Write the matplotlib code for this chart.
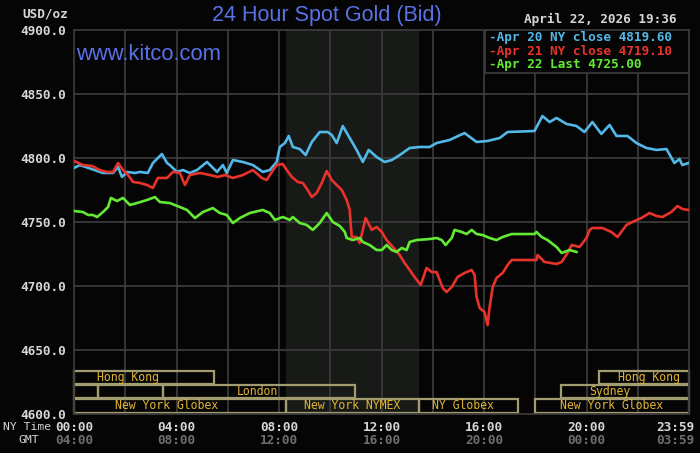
import matplotlib
matplotlib.use("Agg")
import matplotlib.pyplot as plt
from matplotlib.patches import Rectangle

# ---------------- data ----------------
blue_hours = [0.0, 0.23, 1.13, 1.52, 1.72, 1.87, 2.07, 2.38, 2.57, 2.88, 3.08, 3.43, 3.63, 3.74,
              4.02, 4.25, 4.52, 4.80, 5.19, 5.58, 5.81, 5.96, 6.20, 6.59, 6.98, 7.37, 7.64, 7.91,
              8.03, 8.23, 8.38, 8.54, 8.81, 9.04, 9.28, 9.59, 9.90, 10.06, 10.25, 10.49, 10.76,
              11.03, 11.27, 11.50, 11.81, 12.12, 12.40, 12.71, 13.10, 13.49, 13.88, 14.15, 14.66,
              15.24, 15.71, 16.14, 16.61, 16.92, 17.97, 18.28, 18.56, 18.83, 19.22, 19.61, 19.92,
              20.23, 20.58, 20.90, 21.17, 21.60, 21.95, 22.34, 22.73, 23.12, 23.43, 23.63, 23.74, 23.98]
blue_prices = [4792.2, 4794.5, 4788.3, 4788.3, 4793.0, 4785.2, 4789.1, 4788.3, 4789.1, 4788.3, 4796.1,
               4803.1, 4796.1, 4794.5, 4789.1, 4790.6, 4788.3, 4790.6, 4796.9, 4789.1, 4794.5, 4788.3,
               4798.4, 4796.9, 4794.5, 4789.1, 4790.6, 4796.9, 4808.6, 4811.7, 4817.2, 4808.6, 4807.0,
               4802.3, 4812.5, 4820.3, 4820.3, 4818.0, 4811.7, 4825.0, 4815.6, 4806.3, 4796.9, 4806.3,
               4800.8, 4796.9, 4798.4, 4802.3, 4807.8, 4808.6, 4808.6, 4811.7, 4814.1, 4819.5, 4812.5,
               4813.3, 4815.6, 4820.3, 4821.1, 4832.8, 4828.1, 4831.3, 4826.6, 4825.0, 4820.3, 4828.1,
               4818.8, 4825.8, 4817.2, 4817.2, 4811.7, 4807.8, 4806.3, 4807.0, 4796.1, 4799.2, 4794.5, 4796.1]

red_hours = [0.0, 0.35, 0.70, 1.01, 1.29, 1.52, 1.72, 1.91, 2.11, 2.30, 2.57, 2.85, 3.08, 3.27, 3.63,
             3.86, 4.13, 4.33, 4.52, 4.91, 5.30, 5.61, 5.89, 6.20, 6.59, 6.98, 7.33, 7.52, 7.72, 7.91,
             8.15, 8.30, 8.50, 8.73, 8.93, 9.12, 9.28, 9.47, 9.67, 9.86, 10.06, 10.25, 10.45, 10.64,
             10.76, 10.80, 10.84, 11.03, 11.15, 11.38, 11.62, 11.81, 12.01, 12.20, 12.44, 12.71, 12.90,
             13.10, 13.29, 13.53, 13.76, 13.96, 14.15, 14.39, 14.54, 14.74, 14.97, 15.24, 15.52, 15.63,
             15.71, 15.83, 16.02, 16.14, 16.22, 16.34, 16.49, 16.73, 16.92, 17.08, 17.39, 18.05, 18.09,
             18.36, 18.83, 19.03, 19.26, 19.42, 19.73, 20.00, 20.12, 20.23, 20.62, 20.97, 21.21, 21.56,
             21.79, 22.14, 22.46, 22.73, 22.96, 23.31, 23.55, 23.74, 23.98]
red_prices = [4797.7, 4794.5, 4793.8, 4790.6, 4789.1, 4789.1, 4796.1, 4790.6, 4786.7, 4781.3, 4780.5,
              4778.9, 4776.6, 4784.4, 4784.4, 4789.1, 4788.3, 4778.9, 4786.7, 4788.3, 4786.7, 4785.2,
              4786.7, 4784.4, 4786.7, 4790.6, 4784.4, 4782.8, 4789.1, 4794.5, 4795.3, 4790.6, 4785.2,
              4781.3, 4780.5, 4775.0, 4769.5, 4772.7, 4780.5, 4789.8, 4782.8, 4778.9, 4775.0, 4767.2,
              4759.4, 4747.7, 4738.3, 4738.3, 4733.6, 4753.1, 4743.8, 4746.1, 4742.2, 4735.9, 4730.5,
              4724.2, 4718.0, 4712.5, 4707.0, 4700.8, 4714.1, 4710.9, 4710.9, 4698.4, 4695.3, 4699.2,
              4707.0, 4710.2, 4712.5, 4708.6, 4691.4, 4682.8, 4679.7, 4669.5, 4683.6, 4699.2, 4706.3,
              4710.2, 4716.4, 4720.3, 4720.3, 4720.3, 4724.2, 4718.8, 4717.2, 4718.8, 4725.8, 4732.0,
              4730.5, 4737.5, 4743.8, 4745.3, 4745.3, 4742.2, 4738.3, 4747.7, 4750.0, 4753.1, 4757.0,
              4754.7, 4753.9, 4757.8, 4762.5, 4760.2, 4759.4]

green_hours = [0.0, 0.35, 0.55, 0.74, 0.90, 1.13, 1.33, 1.44, 1.68, 1.91, 2.18, 2.46, 2.85, 3.16, 3.35,
               3.74, 4.13, 4.41, 4.72, 5.03, 5.42, 5.69, 5.96, 6.20, 6.47, 6.86, 7.37, 7.64, 7.84, 8.15,
               8.42, 8.54, 8.81, 9.08, 9.32, 9.59, 9.86, 10.10, 10.37, 10.57, 10.64, 10.88, 11.15, 11.27,
               11.54, 11.81, 12.01, 12.20, 12.40, 12.59, 12.79, 12.98, 13.10, 13.37, 13.88, 14.15, 14.35,
               14.50, 14.74, 14.85, 15.13, 15.32, 15.52, 15.71, 15.95, 16.22, 16.49, 16.73, 17.08, 17.97,
               18.05, 18.25, 18.48, 18.83, 19.03, 19.14, 19.34, 19.61]
green_prices = [4758.6, 4757.8, 4755.5, 4755.5, 4753.9, 4757.8, 4761.7, 4768.8, 4766.4, 4768.8, 4763.3,
                4764.8, 4767.2, 4769.5, 4765.6, 4764.8, 4761.7, 4759.4, 4753.1, 4757.8, 4760.9, 4757.0,
                4755.5, 4749.2, 4753.1, 4757.0, 4759.4, 4757.0, 4751.6, 4753.9, 4751.6, 4753.9, 4749.2,
                4747.7, 4743.8, 4749.2, 4757.0, 4750.0, 4746.9, 4742.2, 4737.5, 4735.9, 4737.5, 4734.4,
                4732.0, 4728.1, 4728.1, 4732.0, 4728.1, 4726.6, 4729.7, 4728.1, 4734.4, 4735.9, 4736.7,
                4737.5, 4735.9, 4732.0, 4737.5, 4743.8, 4742.2, 4740.6, 4743.8, 4740.6, 4739.8, 4737.5,
                4735.9, 4738.3, 4740.6, 4740.6, 4742.2, 4738.3, 4735.9, 4730.5, 4725.8, 4726.6, 4728.1, 4726.6]

legend_labels = ["-Apr 20 NY close 4819.60", "-Apr 21 NY close 4719.10", "-Apr 22 Last 4725.00"]
y_ticks = [4600, 4650, 4700, 4750, 4800, 4850, 4900]
y_tick_labels = ["4600.0", "4650.0", "4700.0", "4750.0", "4800.0", "4850.0", "4900.0"]
ny_tick_hours = [0, 4, 8, 12, 16, 20, 24]
ny_tick_labels = ["00:00", "04:00", "08:00", "12:00", "16:00", "20:00", "23:59"]
gmt_tick_labels = ["04:00", "08:00", "12:00", "16:00", "20:00", "00:00", "03:59"]

nymex_span = (8.28, 13.48)
# sessions: (start hour, end hour, row, label, label hour)
sessions = [
    (0.0, 5.47, 0, "Hong Kong", 2.1),
    (20.5, 24.0, 0, "Hong Kong", 22.45),
    (0.0, 0.94, 1, "", 0),
    (0.94, 3.48, 1, "", 0),
    (3.48, 10.98, 1, "London", 7.17),
    (19.0, 24.0, 1, "Sydney", 20.9),
    (0.0, 8.28, 2, "New York Globex", 3.63),
    (8.28, 13.48, 2, "New York NYMEX", 10.85),
    (13.48, 17.34, 2, "NY Globex", 15.17),
    (18.0, 24.0, 2, "New York Globex", 20.97),
]
row_bounds = [(4623.4, 4633.6), (4612.5, 4622.7), (4600.9, 4611.7)]

# ---------------- style ----------------
BG = "#050505"
GRID = "#3a3a3a"
BLUE = "#52b8e8"
RED = "#e8322a"
GREEN = "#62ea34"
TITLE = "#5a72e8"
TXT = "#d6d6d6"
GMTC = "#6e6e6e"
SESS_EDGE = "#a29c70"
SESS_TXT = "#e2b634"
MONO = "DejaVu Sans Mono"

W, H = 700, 453
fig = plt.figure(figsize=(W / 100, H / 100), dpi=100, facecolor=BG)
ax = fig.add_axes([74 / W, 1 - 414 / H, 615 / W, 384 / H], facecolor=BG)
ax.set_xlim(0, 24)
ax.set_ylim(4600, 4900)

ax.axvspan(*nymex_span, color="#181a17", zorder=0, lw=0)
for xv in range(2, 24, 2):
    ax.axvline(xv, color=GRID, lw=1.3, zorder=1)
for yv in y_ticks[1:-1]:
    ax.axhline(yv, color=GRID, lw=1.3, zorder=1)
for s in ax.spines.values():
    s.set_color(GRID)
    s.set_linewidth(1.3)

ax.plot(blue_hours, blue_prices, color=BLUE, lw=1.9, zorder=3, solid_joinstyle="round")
ax.plot(red_hours, red_prices, color=RED, lw=1.9, zorder=4, solid_joinstyle="round")
ax.plot(green_hours, green_prices, color=GREEN, lw=1.9, zorder=5, solid_joinstyle="round")

# sessions
for start, end, row, label, lh in sessions:
    y0, y1 = row_bounds[row]
    ax.add_patch(Rectangle((start, y0), end - start, y1 - y0, fill=False,
                           edgecolor=SESS_EDGE, lw=1.6, zorder=2, clip_on=False))
    if label:
        ax.text(lh, (y0 + y1) / 2, label, color=SESS_TXT, fontsize=8.3, family=MONO,
                ha="center", va="center", zorder=6)

# y ticks
ax.set_yticks(y_ticks)
ax.set_yticklabels(y_tick_labels, family=MONO, fontsize=9.2, color=TXT, fontweight="bold")
ax.set_xticks([])
ax.tick_params(axis="y", length=0, pad=6)

# x time labels
xt = ax.get_xaxis_transform()
for h, ny, gmt in zip(ny_tick_hours, ny_tick_labels, gmt_tick_labels):
    ha = "right" if h == 24 else "center"
    xx = h + 0.2 if h == 24 else h
    ax.text(xx, -0.034, ny, transform=xt, family=MONO, fontsize=9.2, fontweight="bold",
            color=TXT, ha=ha, va="center")
    ax.text(xx, -0.068, gmt, transform=xt, family=MONO, fontsize=9.2, fontweight="bold",
            color=GMTC, ha=ha, va="center")
fig.text(3 / W, 1 - 427 / H, "NY Time", family=MONO, fontsize=8.2, color=TXT, ha="left", va="center")
fig.text(29 / W, 1 - 440 / H, "GMT", family=MONO, fontsize=8.2, color=TXT, ha="center", va="center")

# legend box
ax.add_patch(Rectangle((16.02, 0.888), 24 - 16.02, 0.112, transform=xt, facecolor=BG,
                       edgecolor=GRID, lw=1.3, zorder=7))
for i, (lab, c) in enumerate(zip(legend_labels, [BLUE, RED, GREEN])):
    fig.text(489 / W, 1 - (37.5 + 13.5 * i) / H, lab, family=MONO, fontsize=9.2,
             fontweight="bold", color=c, ha="left", va="center", zorder=8)

# header texts
fig.text(68 / W, 1 - 14 / H, "USD/oz", family=MONO, fontsize=9.2, fontweight="bold",
         color=TXT, ha="right", va="center")
fig.text(327 / W, 1 - 16 / H, "24 Hour Spot Gold (Bid)", family="Liberation Sans",
         fontsize=15.5, color=TITLE, ha="center", va="center")
fig.text(677 / W, 1 - 19.5 / H, "April 22, 2026 19:36", family=MONO, fontsize=9.2,
         fontweight="bold", color=TXT, ha="right", va="center")
fig.text(76 / W, 1 - 54 / H, "www.kitco.com", family="Liberation Sans",
         fontsize=15.8, color=TITLE, ha="left", va="center", zorder=6)

fig.savefig("out.png", dpi=100, facecolor=BG)
